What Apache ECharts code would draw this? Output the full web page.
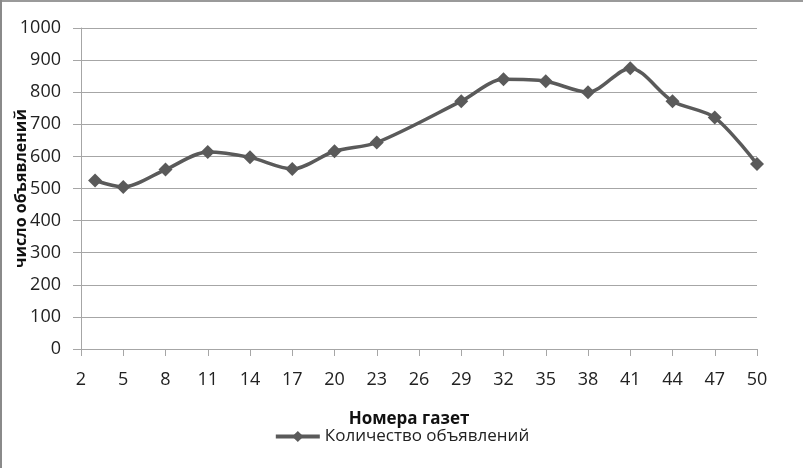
<!DOCTYPE html>
<html>
<head>
<meta charset="utf-8">
<script src="https://cdn.jsdelivr.net/npm/echarts@6/dist/echarts.min.js"></script>
<style>
html,body{margin:0;padding:0;background:#fff;}
#c{width:803px;height:468px;}
</style>
</head>
<body>
<div id="c"></div>
<script>
var issues = [3, 5, 8, 11, 14, 17, 20, 23, 29, 32, 35, 38, 41, 44, 47, 50];
var adCounts = [525, 505, 559, 614, 597, 561, 616, 643, 772, 840, 834, 800, 875, 772, 721, 576];
var seriesName = 'Количество объявлений';
var xTitle = 'Номера газет';
var yTitle = 'число объявлений';

var font = '"Open Sans", sans-serif';
var gridColor = '#a6a6a6';
var lineColor = '#5a5a5a';

var chart = echarts.init(document.getElementById('c'), null, {renderer: 'canvas'});
chart.setOption({
  animation: false,
  backgroundColor: '#fff',
  textStyle: {fontFamily: font},
  grid: {left: 81, right: 46, top: 28, bottom: 119, containLabel: false, outerBoundsMode: 'none'},
  legend: {
    data: [seriesName],
    bottom: 18,
    left: 'center',
    itemWidth: 44,
    itemHeight: 14,
    itemGap: 4,
    lineStyle: {width: 4},
    textStyle: {fontFamily: font, fontSize: 17, color: '#222'}
  },
  xAxis: {
    type: 'value',
    min: 2, max: 50, interval: 3,
    name: xTitle,
    nameLocation: 'middle',
    nameGap: 62,
    nameMoveOverlap: false,
    nameTextStyle: {fontFamily: font, fontSize: 17, fontWeight: 'bold', color: '#111', verticalAlign: 'top', padding: [0, 20, 0, 0]},
    axisLine: {show: true, onZero: false, lineStyle: {color: gridColor, width: 1}},
    axisTick: {show: true, length: 7, lineStyle: {color: gridColor}},
    axisLabel: {margin: 22, fontFamily: font, fontSize: 18, color: '#222'},
    splitLine: {show: false}
  },
  yAxis: {
    type: 'value',
    min: 0, max: 1000, interval: 100,
    name: yTitle,
    nameLocation: 'middle',
    nameGap: 52,
    nameMoveOverlap: false,
    nameRotate: 90,
    nameTextStyle: {fontFamily: font, fontSize: 16, fontWeight: 'bold', color: '#111'},
    axisLine: {show: true, lineStyle: {color: gridColor, width: 1}},
    axisTick: {show: true, length: 8, lineStyle: {color: gridColor}},
    axisLabel: {margin: 20, fontFamily: font, fontSize: 18, color: '#222', formatter: function (v) { return String(v); }},
    splitLine: {show: true, lineStyle: {color: gridColor, width: 1}}
  },
  graphic: [
    {type: 'rect', left: 0, top: 0, shape: {width: 803, height: 2}, style: {fill: '#9a9a9a'}, silent: true},
    {type: 'rect', left: 0, top: 0, shape: {width: 2, height: 468}, style: {fill: '#8a8a8a'}, silent: true}
  ],
  series: [{
    name: seriesName,
    type: 'line',
    smooth: 0.3,
    data: issues.map(function (x, i) { return [x, adCounts[i]]; }),
    symbol: 'diamond',
    symbolSize: 14,
    lineStyle: {color: lineColor, width: 3.5},
    itemStyle: {color: lineColor}
  }]
});
</script>
</body>
</html>
